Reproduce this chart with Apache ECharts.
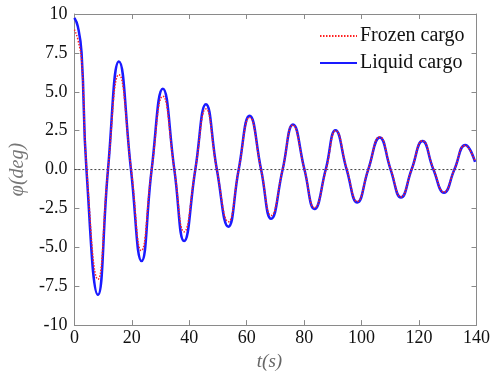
<!DOCTYPE html>
<html>
<head>
<meta charset="utf-8">
<script src="https://cdn.jsdelivr.net/npm/echarts@6/dist/echarts.min.js"></script>
<style>
html,body{margin:0;padding:0;background:#fff;}
#chart{width:493px;height:376px;}
</style>
</head>
<body>
<div id="chart"></div>
<script>
// Time (s) and roll angle (deg) read at extrema and zero crossings
var liquidT = [0, 1.2, 2.5, 4.2, 8.2, 11.7, 15.5, 19.7, 23.4, 26.9, 30.8, 34.8, 38.2, 42.1, 45.8, 49.6, 53.6, 57.2, 61.0, 65.0, 68.5, 72.5, 76.1, 80.1, 83.6, 87.5, 90.9, 94.8, 98.5, 102.3, 106.3, 110.1, 113.7, 117.4, 121.2, 125.0, 128.7, 132.3, 136.1, 139.5];
var liquidV = [9.75, 9.2, 7.5, 0, -8.05, 0, 6.95, 0, -5.88, 0, 5.19, 0, -4.6, 0, 4.19, 0, -3.67, 0, 3.46, 0, -3.17, 0, 2.9, 0, -2.54, 0, 2.52, 0, -2.12, 0, 2.06, 0, -1.8, 0, 1.83, 0, -1.49, 0, 1.58, 0.5];
var frozenT = [0, 1.3, 2.6, 4.3, 8.2, 11.7, 15.5, 19.8, 23.3, 26.9, 30.8, 34.8, 38.2, 42.1, 45.8, 49.6, 53.6, 57.2, 61.0, 65.0, 68.5, 72.5, 76.0, 80.1, 83.6, 87.6, 91.0, 94.9, 98.5, 102.3, 106.3, 110.2, 113.7, 117.4, 121.2, 125.1, 128.7, 132.3, 136.0, 139.5];
var frozenV = [9.0, 8.3, 6.8, 0, -7.05, 0, 6.1, 0, -5.21, 0, 4.71, 0, -4.0, 0, 3.9, 0, -3.35, 0, 3.35, 0, -2.95, 0, 2.85, 0, -2.45, 0, 2.5, 0, -2.05, 0, 2.1, 0, -1.75, 0, 1.85, 0, -1.45, 0, 1.55, 0.55];
var zeroLineT = [0, 136];
var zeroLineV = [0, 0];
var xTicks = [0, 20, 40, 60, 80, 100, 120, 140];
var yTickValues = [-10, -7.5, -5, -2.5, 0, 2.5, 5, 7.5, 10];
var yTickLabels = ['-10', '-7.5', '-5.0', '-2.5', '0.0', '2.5', '5.0', '7.5', '10'];
var seriesNames = ['Frozen cargo', 'Liquid cargo'];

function pairs(t, v) { return t.map(function (x, i) { return [x, v[i]]; }); }

var serif = 'Liberation Serif, Times New Roman, serif';
var axisColor = '#8a8a8a';
var chart = echarts.init(document.getElementById('chart'), null, {renderer: 'canvas'});
chart.setOption({
  animation: false,
  backgroundColor: '#fff',
  grid: {left: 71, right: 15, top: 14, bottom: 43},
  legend: {
    data: seriesNames,
    orient: 'vertical',
    left: 314, top: 21,
    itemWidth: 37, itemHeight: 14, itemGap: 7,
    itemStyle: {opacity: 0},
    textStyle: {fontFamily: serif, fontSize: 20, color: '#111', padding: [0, 0, 0, -2]}
  },
  xAxis: [{
    type: 'value', min: 0, max: 140, interval: 20,
    name: 't(s)', nameLocation: 'middle', nameGap: 22,
    nameTextStyle: {fontFamily: serif, fontStyle: 'italic', fontSize: 19, color: '#666', padding: [0, 12, 0, 0]},
    axisLine: {onZero: false, lineStyle: {color: axisColor, width: 1}},
    axisTick: {inside: true, length: 5, lineStyle: {color: axisColor}},
    axisLabel: {fontFamily: serif, fontSize: 18, color: '#111', margin: 4,
      formatter: function (v) { return xTicks.indexOf(v) >= 0 ? String(v) : ''; }},
    splitLine: {show: false}
  }, {
    type: 'value', min: 0, max: 140, interval: 20, position: 'top',
    axisLine: {onZero: false, lineStyle: {color: axisColor, width: 1}},
    axisTick: {inside: true, length: 5, lineStyle: {color: axisColor}},
    axisLabel: {show: false}, splitLine: {show: false}
  }],
  yAxis: [{
    type: 'value', min: -10, max: 10, interval: 2.5,
    name: 'φ(deg)', nameLocation: 'middle', nameGap: 37, nameRotate: 90,
    nameTextStyle: {fontFamily: serif, fontStyle: 'italic', fontSize: 20, color: '#777'},
    axisLine: {show: true, onZero: false, lineStyle: {color: axisColor, width: 1}},
    axisTick: {show: true, inside: true, length: 5, lineStyle: {color: axisColor}},
    axisLabel: {fontFamily: serif, fontSize: 18, color: '#111', margin: 7,
      formatter: function (v) { var i = yTickValues.indexOf(v); return i >= 0 ? yTickLabels[i] : ''; }},
    splitLine: {show: false}
  }, {
    type: 'value', min: -10, max: 10, interval: 2.5, position: 'right',
    axisLine: {show: true, onZero: false, lineStyle: {color: axisColor, width: 1}},
    axisTick: {show: true, inside: true, length: 5, lineStyle: {color: axisColor}},
    axisLabel: {show: false}, splitLine: {show: false}
  }],
  series: [{
    name: 'zero', type: 'line', data: pairs(zeroLineT, zeroLineV),
    symbol: 'none', silent: true, z: 1,
    lineStyle: {color: '#444', width: 1, type: [2, 2]}
  }, {
    name: seriesNames[0], type: 'line', data: pairs(frozenT, frozenV),
    symbol: 'none', smooth: 0.5, z: 3,
    lineStyle: {color: '#ff2020', width: 1.5, type: [1.5, 1.5]},
    itemStyle: {color: '#ff2020'}
  }, {
    name: seriesNames[1], type: 'line', data: pairs(liquidT, liquidV),
    symbol: 'none', smooth: 0.5, z: 2,
    lineStyle: {color: '#1a1aff', width: 2.5},
    itemStyle: {color: '#1a1aff'}
  }]
});
</script>
</body>
</html>
